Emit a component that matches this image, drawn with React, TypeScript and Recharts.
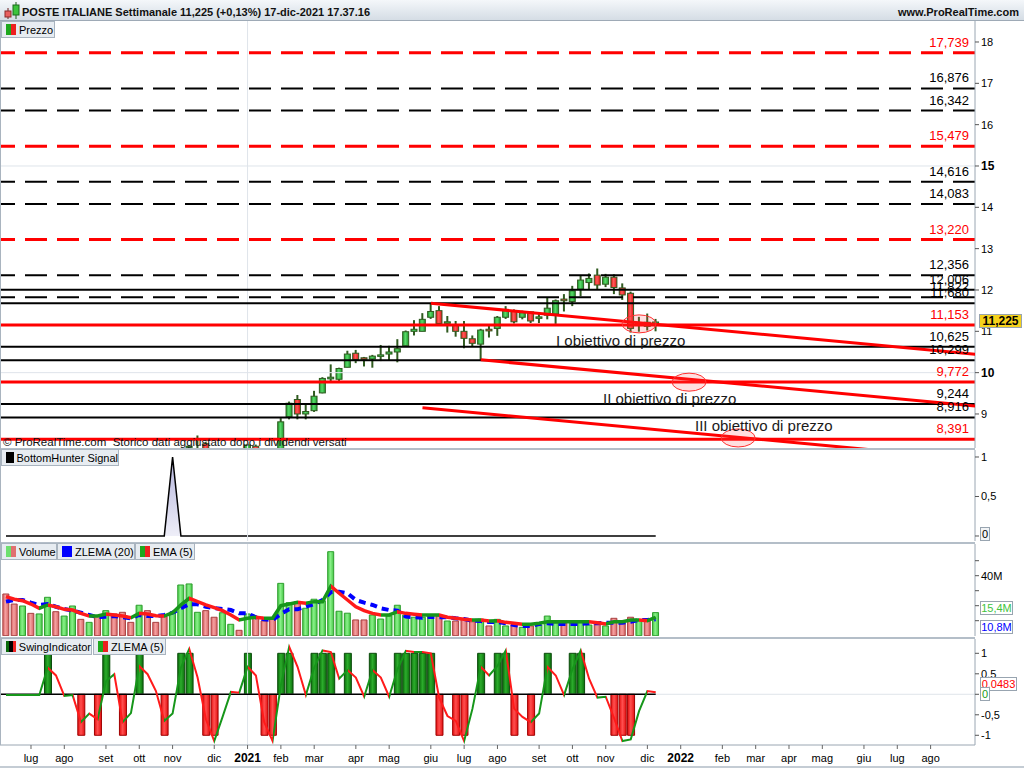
import React from 'react';
import {
  ComposedChart, Bar, Line, Area, XAxis, YAxis, ReferenceLine, ReferenceDot, Cell, Scatter,
} from 'recharts';

const FONT = '"Liberation Sans", Arial, Helvetica, sans-serif';

// ---- categories: weekly bars, index 0 = week of 15 Jun 2020, index 78 = week of 13 Dec 2021
const FIRST_WEEK = '2020-06-15';
const monthTicks = [3, 7, 12, 16, 20, 25, 29, 33, 37, 42, 46, 51, 55, 59, 64, 68, 72, 77, 81, 86, 90, 94, 98, 103, 107, 111];
const monthLabels = ['lug', 'ago', 'set', 'ott', 'nov', 'dic', '2021', 'feb', 'mar', 'apr', 'mag', 'giu', 'lug', 'ago', 'set', 'ott', 'nov', 'dic', '2022', 'feb', 'mar', 'apr', 'mag', 'giu', 'lug', 'ago'];
const priceTicks = [9, 10, 11, 12, 13, 14, 15, 16, 17, 18];
const boldPriceTicks = [10, 15];

// ---- price (OHLC)
const openP = [7.95, 7.78, 7.62, 7.85, 7.70, 7.92, 8.05, 7.88, 8.00, 8.10, 7.80, 7.90, 7.68, 7.92, 7.75, 7.50, 7.38, 7.66, 7.35, 7.10, 6.95, 7.25, 7.95, 8.10, 8.28, 8.00, 7.80, 7.95, 8.05, 8.00, 8.22, 7.95, 7.75, 7.60, 8.93, 9.35, 9.00, 9.08, 9.51, 9.85, 9.84, 10.13, 10.47, 10.36, 10.33, 10.40, 10.45, 10.50, 10.65, 11.00, 11.00, 11.34, 11.50, 11.20, 11.15, 11.00, 10.82, 10.69, 11.05, 11.07, 11.34, 11.50, 11.34, 11.47, 11.32, 11.39, 11.42, 11.78, 11.72, 12.02, 12.18, 12.36, 12.14, 12.31, 12.05, 11.92, 11.14, 11.22, 11.15];
const highP = [8.05, 7.90, 7.90, 7.95, 7.98, 8.10, 8.12, 8.08, 8.15, 8.14, 7.95, 7.96, 7.98, 8.00, 7.82, 7.60, 7.72, 7.70, 7.40, 7.15, 7.30, 8.05, 8.24, 8.48, 8.32, 8.05, 8.00, 8.10, 8.10, 8.28, 8.26, 8.00, 7.85, 8.90, 9.30, 9.46, 9.22, 9.56, 9.89, 10.20, 10.12, 10.53, 10.55, 10.38, 10.43, 10.67, 10.65, 10.81, 11.02, 11.27, 11.44, 11.68, 11.61, 11.37, 11.25, 11.25, 10.90, 11.06, 11.14, 11.37, 11.61, 11.53, 11.50, 11.47, 11.43, 11.82, 11.77, 11.90, 12.10, 12.36, 12.40, 12.52, 12.39, 12.38, 12.16, 11.96, 11.35, 11.43, 11.30];
const lowP = [7.70, 7.55, 7.55, 7.65, 7.62, 7.85, 7.80, 7.82, 7.90, 7.75, 7.70, 7.62, 7.64, 7.70, 7.45, 7.30, 7.35, 7.30, 7.05, 6.85, 6.88, 7.20, 7.85, 8.05, 7.95, 7.75, 7.72, 7.88, 7.96, 7.95, 7.90, 7.70, 7.55, 7.58, 8.87, 8.87, 8.87, 9.05, 9.50, 9.76, 9.80, 10.13, 10.23, 10.15, 10.12, 10.28, 10.30, 10.25, 10.65, 10.90, 11.00, 11.30, 11.19, 10.97, 10.87, 10.59, 10.62, 10.31, 10.85, 10.89, 11.30, 11.19, 11.29, 11.20, 11.20, 11.29, 11.18, 11.48, 11.61, 11.85, 12.02, 12.02, 12.07, 11.90, 11.76, 10.97, 10.99, 11.02, 11.00];
const closeP = [7.78, 7.62, 7.85, 7.70, 7.92, 8.05, 7.88, 8.00, 8.10, 7.80, 7.90, 7.68, 7.92, 7.75, 7.50, 7.38, 7.66, 7.35, 7.10, 6.95, 7.25, 7.95, 8.22, 8.16, 8.00, 7.80, 7.95, 8.05, 8.00, 8.25, 7.95, 7.75, 7.60, 8.81, 9.26, 9.00, 9.06, 9.43, 9.86, 9.89, 10.10, 10.45, 10.32, 10.33, 10.40, 10.43, 10.50, 10.58, 10.99, 11.05, 11.29, 11.48, 11.19, 11.23, 11.00, 10.83, 10.71, 11.03, 11.01, 11.34, 11.50, 11.23, 11.45, 11.25, 11.35, 11.56, 11.74, 11.74, 11.98, 12.24, 12.28, 12.12, 12.31, 12.06, 11.88, 11.07, 11.20, 11.12, 11.225];

// ---- volume (millions) and its averages
const volumeM = [27.8, 21.1, 19.8, 14.9, 14.5, 25.6, 16.0, 13.1, 19.8, 10.9, 8.9, 13.1, 16.7, 14.5, 15.6, 8.9, 20.3, 16.7, 8.9, 12.7, 15.3, 33.8, 34.5, 15.6, 16.7, 12.3, 15.3, 7.6, 3.6, 14.5, 12.3, 9.8, 11.1, 34.9, 22.0, 22.7, 18.3, 24.3, 23.3, 56.0, 16.3, 15.0, 10.5, 10.5, 13.8, 11.1, 13.1, 20.3, 13.8, 12.3, 12.3, 13.8, 13.1, 9.8, 9.8, 11.1, 9.3, 11.1, 6.5, 10.9, 6.5, 7.1, 5.6, 6.5, 7.1, 13.1, 8.3, 8.3, 8.3, 8.7, 7.1, 7.8, 6.5, 11.6, 8.7, 12.3, 10.5, 9.8, 15.4];
const volZlema20 = [22.7, 23.8, 23.8, 22.0, 20.5, 21.1, 19.3, 17.8, 16.7, 15.3, 13.8, 12.3, 12.7, 13.1, 12.3, 11.6, 13.8, 13.1, 13.1, 13.8, 15.3, 18.3, 21.1, 20.9, 19.3, 18.3, 17.8, 17.1, 14.9, 14.9, 12.3, 10.9, 10.5, 14.5, 17.6, 17.6, 19.3, 21.1, 23.8, 29.0, 29.3, 28.3, 23.8, 22.0, 20.5, 18.3, 17.1, 16.7, 12.7, 12.3, 12.0, 12.7, 12.3, 12.3, 11.6, 11.1, 10.0, 9.8, 9.1, 9.1, 8.3, 7.1, 6.5, 6.5, 7.8, 8.3, 7.8, 7.8, 7.8, 7.8, 8.3, 8.3, 8.7, 8.7, 8.7, 9.3, 10.5, 10.5, 10.9];
const volEma5 = [26.0, 24.3, 23.3, 21.1, 18.3, 20.5, 19.3, 17.6, 17.1, 14.9, 13.1, 13.1, 14.5, 13.8, 13.1, 12.0, 14.9, 14.5, 13.3, 13.1, 15.3, 20.5, 24.9, 22.7, 20.5, 18.7, 16.7, 13.8, 10.5, 11.6, 12.3, 11.6, 11.6, 20.0, 21.1, 22.3, 21.6, 22.7, 22.7, 33.0, 28.3, 23.8, 19.3, 16.7, 14.9, 13.8, 13.8, 16.0, 14.9, 14.3, 13.8, 13.8, 13.8, 12.3, 11.6, 10.9, 10.5, 10.5, 9.8, 10.0, 8.9, 8.3, 7.6, 7.6, 8.3, 9.3, 9.3, 9.3, 9.3, 9.3, 9.3, 8.7, 7.8, 9.3, 9.3, 10.5, 10.5, 10.0, 12.3];

// ---- BottomHunter signal
const bottomHunter = [0, 0, 0, 0, 0, 0, 0, 0, 0, 0, 0, 0, 0, 0, 0, 0, 0, 0, 0, 0, 1, 0, 0, 0, 0, 0, 0, 0, 0, 0, 0, 0, 0, 0, 0, 0, 0, 0, 0, 0, 0, 0, 0, 0, 0, 0, 0, 0, 0, 0, 0, 0, 0, 0, 0, 0, 0, 0, 0, 0, 0, 0, 0, 0, 0, 0, 0, 0, 0, 0, 0, 0, 0, 0, 0, 0, 0, 0, 0];

// ---- Swing indicator and its ZLEMA(5)
const swingSignal = [0, 0, 0, 0, 0, 1, 0, 0, 0, -1, 0, -1, 1, 0, -1, 0, 1, 0, 0, -1, 0, 1, 1, 0, -1, -1, 0, 0, 0, 1, 0, -1, -1, 1, 1, 0, 0, 1, 1, 1, 0, 1, 0, 0, 1, 0, 0, 1, 1, 1, 1, 1, -1, 0, -1, -1, 0, 1, 0, 1, 1, -1, 0, -1, 0, 1, 0, 0, 1, 1, 0, 0, 0, -1, -1, -1, 0, 0, 0];
const swingZlema5 = [-0.02, -0.02, -0.02, -0.02, -0.02, 0.65, 0.46, -0.04, -0.02, -0.68, -0.47, -0.61, 0.32, 0.49, -0.68, -0.46, 0.69, 0.49, 0.08, -0.65, -0.47, 0.65, 1.11, 0.41, -0.61, -1.14, -0.55, 0.06, 0.04, 0.67, 0.46, -0.68, -1.14, 0.22, 1.16, 0.67, -0.02, 0.65, 1.07, 1.03, 0.38, 0.59, 0.41, -0.06, 0.59, 0.41, -0.06, 0.61, 1.06, 1.03, 1.03, 1.0, -0.08, -0.53, -0.65, -1.14, -0.35, 0.67, 0.46, 0.69, 1.07, -0.35, -0.55, -0.68, -0.47, 0.67, 0.46, -0.02, 0.61, 1.07, 0.38, -0.08, -0.06, -0.58, -1.14, -1.10, -0.41, 0.08, 0.05];

// ---- horizontal price levels
const levelValues = [17.739, 16.876, 16.342, 15.479, 14.616, 14.083, 13.220, 12.356, 11.822, 12.006, 11.680, 11.153, 10.625, 10.299, 9.772, 9.244, 8.916, 8.391];
const levelKinds = ['rd', 'bd', 'bd', 'rd', 'bd', 'bd', 'rd', 'bd', 'bd', 'bs', 'bs', 'rs', 'bs', 'bs', 'rs', 'bs', 'bs', 'rs'];

// ---- trend lines (two anchor points each: week index, price)
const trendLine1 = [{ i: 51, p: 11.68 }, { i: 117, p: 10.435 }];
const trendLine2 = [{ i: 57, p: 10.31 }, { i: 117, p: 9.18 }];
const trendLine3 = [{ i: 50, p: 9.15 }, { i: 117, p: 7.886 }];

// ---- price targets (ellipses)
const targetWeeks = [76, 82, 87.9];
const targetPrices = [11.18, 9.77, 8.42];
const targetNotes = ['I obiettivo di prezzo', 'II obiettivo di prezzo', 'III obiettivo di prezzo'];

// ---- layout constants
const X_DOMAIN: [number, number] = [-0.72, 116.33];
const PRICE_DOMAIN: [number, number] = [8.177, 18.508];
const BH_DOMAIN: [number, number] = [-0.0633, 1.0886];
const VOL_DOMAIN: [number, number] = [-0.2, 61.13];
const SW_DOMAIN: [number, number] = [-1.237, 1.349];
const AXIS = '#9aa6b2';
const GRID = '#dfe4ea';
const WICK = '#2f5a1f';
const LINE_GREEN = '#16961a';
const LINE_RED = '#ff1a1a';

const rows = openP.map((o, i) => ({
  i,
  o,
  h: highP[i],
  l: lowP[i],
  c: closeP[i],
  range: [lowP[i], highP[i]],
  up: closeP[i] >= o,
  vol: volumeM[i],
  vz: volZlema20[i],
  ve: volEma5[i],
  bh: bottomHunter[i],
  sw: swingSignal[i] === 0 ? null : swingSignal[i],
  sz: swingZlema5[i],
}));

const fmt = (v: number, d: number) => v.toFixed(d).replace('.', ',');

function segGradient(id: string, vals: number[]) {
  const n = vals.length - 1;
  const stops: React.ReactNode[] = [];
  for (let k = 0; k < n; k++) {
    const col = vals[k + 1] >= vals[k] ? LINE_GREEN : LINE_RED;
    stops.push(<stop key={`${id}a${k}`} offset={k / n} stopColor={col} />);
    stops.push(<stop key={`${id}b${k}`} offset={(k + 1) / n} stopColor={col} />);
  }
  return (
    <linearGradient id={id} x1="0" y1="0" x2="1" y2="0">
      {stops}
    </linearGradient>
  );
}

function hGrad(id: string, edge: string, mid: string) {
  return (
    <linearGradient id={id} x1="0" y1="0" x2="1" y2="0">
      <stop offset="0" stopColor={edge} />
      <stop offset="0.45" stopColor={mid} />
      <stop offset="1" stopColor={edge} />
    </linearGradient>
  );
}

function Defs() {
  return (
    <svg width={0} height={0} style={{ position: 'absolute', left: 0, top: 0 }}>
      <defs>
        {hGrad('cUp', '#1c9a2c', '#5ada6a')}
        {hGrad('cDn', '#e01414', '#ff5a5a')}
        {hGrad('vUp', '#45c845', '#8af08a')}
        {hGrad('vDn', '#d86464', '#f4a0a0')}
        {hGrad('sUp', '#0c700c', '#2cac2c')}
        {hGrad('sDn', '#e41010', '#ff5050')}
        <linearGradient id="bhFill" x1="0" y1="0" x2="0" y2="1">
          <stop offset="0" stopColor="#b4b4dc" />
          <stop offset="1" stopColor="#eeeef8" />
        </linearGradient>
        {segGradient('veGrad', volEma5)}
        {segGradient('szGrad', swingZlema5)}
      </defs>
    </svg>
  );
}

function Candle(p: any) {
  const { x, y, width, height, payload } = p;
  if (!payload || height == null || !isFinite(y) || !isFinite(height)) return <g />;
  const { o, h, l, c } = payload;
  const top = Math.min(y, y + height);
  const hgt = Math.abs(height);
  const k = hgt / (h - l);
  const cx = x + width / 2;
  const bTop = top + (h - Math.max(o, c)) * k;
  const bBot = top + (h - Math.min(o, c)) * k;
  const up = c >= o;
  return (
    <g>
      <line x1={cx} x2={cx} y1={top} y2={top + hgt} stroke={WICK} strokeWidth={2} />
      <rect x={cx - 3} y={bTop} width={6} height={Math.max(bBot - bTop, 1.5)} fill={up ? 'url(#cUp)' : 'url(#cDn)'} stroke={WICK} strokeWidth={1} />
    </g>
  );
}

function PriceTick(p: any) {
  const v = p.payload.value;
  const bold = boldPriceTicks.includes(v);
  return (
    <text x={p.x} y={p.y} dy={4} textAnchor="start" fontFamily={FONT} fontSize={bold ? 12 : 11} fontWeight={bold ? 'bold' : 'normal'} fill="#000">
      {v}
    </text>
  );
}

function makeTick(labels: Record<string, string>) {
  return (p: any) => {
    const key = String(p.payload.value);
    const t = labels[key];
    if (!t) return <g />;
    return (
      <text x={p.x} y={p.y} dy={4} textAnchor="start" fontFamily={FONT} fontSize={11} fill="#000">
        {t}
      </text>
    );
  };
}
const BhTick = makeTick({ '0.5': '0,5', '1': '1' });
const VolTick = makeTick({ '40': '40M' });
const SwTick = makeTick({ '1': '1', '0.5': '0,5', '-0.5': '-0,5', '-1': '-1' });

function MonthTick(p: any) {
  const v = p.payload.value;
  const label = monthLabels[monthTicks.indexOf(v)] || '';
  const isYear = /^\d{4}$/.test(label);
  return (
    <text x={p.x} y={p.y} dy={11} textAnchor="middle" fontFamily={FONT} fontSize={isYear ? 12 : 11} fontWeight={isYear ? 'bold' : 'normal'} fill="#000">
      {label}
    </text>
  );
}

const noMargin = { top: 0, right: 0, bottom: 0, left: 0 };

function PriceChart() {
  return (
    <ComposedChart width={1024} height={427} data={rows} margin={noMargin}>
      <XAxis type="number" dataKey="i" domain={X_DOMAIN} allowDataOverflow hide />
      <YAxis type="number" orientation="right" width={49} domain={PRICE_DOMAIN} allowDataOverflow ticks={priceTicks} interval={0} tickSize={4} tickLine={{ stroke: '#555' }} axisLine={{ stroke: AXIS }} tick={PriceTick} />
      <ReferenceLine x={29} stroke={GRID} />
      <ReferenceLine y={10} stroke={GRID} />
      <ReferenceLine y={15} stroke={GRID} />
      {levelValues.map((v, k) => {
        const red = levelKinds[k][0] === 'r';
        const dashed = levelKinds[k][1] === 'd';
        return (
          <ReferenceLine key={'lv' + k} y={v} stroke={red ? '#ff0000' : '#000000'} strokeWidth={red ? 3 : 2} strokeDasharray={dashed ? '22 10' : undefined} />
        );
      })}
      <Bar dataKey="range" barSize={6} isAnimationActive={false} shape={(p: any) => <Candle {...p} />} />
      {[trendLine1, trendLine2, trendLine3].map((t, k) => (
        <Scatter key={'tl' + k} data={t} dataKey="p" line={{ stroke: '#ff0000', strokeWidth: 3 }} shape={() => <g />} isAnimationActive={false} />
      ))}
      {targetWeeks.map((w, k) => (
        <ReferenceDot key={'el' + k} x={w} y={targetPrices[k]} r={1} ifOverflow="visible"
          shape={(p: any) => <ellipse cx={p.cx} cy={p.cy} rx={17} ry={9} fill="rgba(255,80,80,0.18)" stroke="#ff3030" strokeWidth={1} />} />
      ))}
      {levelValues.map((v, k) => {
        const red = levelKinds[k][0] === 'r';
        return (
          <ReferenceDot key={'lb' + k} x={X_DOMAIN[1]} y={v} r={1} ifOverflow="visible"
            shape={(p: any) => (
              <text x={p.cx - 6} y={p.cy - 6} textAnchor="end" fontFamily={FONT} fontSize={13} fill={red ? '#ff0000' : '#000'}>
                {fmt(v, 3)}
              </text>
            )} />
        );
      })}
    </ComposedChart>
  );
}

function BhChart() {
  return (
    <ComposedChart width={1024} height={91} data={rows} margin={noMargin}>
      <XAxis type="number" dataKey="i" domain={X_DOMAIN} allowDataOverflow hide />
      <YAxis type="number" orientation="right" width={49} domain={BH_DOMAIN} allowDataOverflow ticks={[0, 0.5, 1]} interval={0} tickSize={4} tickLine={{ stroke: '#555' }} axisLine={{ stroke: AXIS }} tick={BhTick} />
      <ReferenceLine x={29} stroke={GRID} />
      <Area type="linear" dataKey="bh" stroke="#000" strokeWidth={1.5} fill="url(#bhFill)" fillOpacity={1} dot={false} activeDot={false} isAnimationActive={false} />
    </ComposedChart>
  );
}

function VolChart() {
  return (
    <ComposedChart width={1024} height={92} data={rows} margin={noMargin}>
      <XAxis type="number" dataKey="i" domain={X_DOMAIN} allowDataOverflow hide />
      <YAxis type="number" orientation="right" width={49} domain={VOL_DOMAIN} allowDataOverflow ticks={[10, 20, 30, 40, 50]} interval={0} tickSize={4} tickLine={{ stroke: '#555' }} axisLine={{ stroke: AXIS }} tick={VolTick} />
      <ReferenceLine x={29} stroke={GRID} />
      <Bar dataKey="vol" barSize={6} isAnimationActive={false}>
        {rows.map((r) => (
          <Cell key={'v' + r.i} fill={r.up ? 'url(#vUp)' : 'url(#vDn)'} stroke={r.up ? '#2f9e2f' : '#a84040'} strokeWidth={1} />
        ))}
      </Bar>
      <Line type="linear" dataKey="vz" stroke="#0000ff" strokeWidth={4} strokeDasharray="7 5" dot={false} activeDot={false} isAnimationActive={false} />
      <Line type="linear" dataKey="ve" stroke="url(#veGrad)" strokeWidth={3.5} dot={false} activeDot={false} isAnimationActive={false} />
    </ComposedChart>
  );
}

function SwingChart() {
  return (
    <ComposedChart width={1024} height={129} data={rows} margin={noMargin}>
      <XAxis type="number" dataKey="i" domain={X_DOMAIN} allowDataOverflow ticks={monthTicks} interval={0} height={23} tickSize={4} tickLine={{ stroke: '#666' }} axisLine={{ stroke: AXIS }} tick={MonthTick} />
      <YAxis type="number" orientation="right" width={49} domain={SW_DOMAIN} allowDataOverflow ticks={[-1, -0.5, 0, 0.5, 1]} interval={0} tickSize={4} tickLine={{ stroke: '#555' }} axisLine={{ stroke: AXIS }} tick={SwTick} />
      <ReferenceLine x={29} stroke={GRID} />
      <ReferenceLine y={0} stroke={GRID} />
      <ReferenceLine segment={[{ x: X_DOMAIN[0], y: 0 }, { x: 78, y: 0 }]} stroke="#000" strokeWidth={1.5} ifOverflow="visible" />
      <Bar dataKey="sw" barSize={7} isAnimationActive={false}>
        {rows.map((r) => (
          <Cell key={'s' + r.i} fill={(r.sw || 0) > 0 ? 'url(#sUp)' : 'url(#sDn)'} stroke={(r.sw || 0) > 0 ? '#0a4a0a' : '#a00000'} strokeWidth={1} />
        ))}
      </Bar>
      <Line type="linear" dataKey="sz" stroke="url(#szGrad)" strokeWidth={2} dot={false} activeDot={false} isAnimationActive={false} />
    </ComposedChart>
  );
}

function Legend({ left, top, width, children }: any) {
  return (
    <div style={{ position: 'absolute', left, top, width, height: 17, boxSizing: 'border-box', background: '#e7ecf1', border: '1px solid #a9b4bf', display: 'flex', alignItems: 'center', gap: 3, padding: '0 0 0 4px', font: `11px ${FONT}`, color: '#000', whiteSpace: 'nowrap' }}>
      {children}
    </div>
  );
}

function Icon({ colors }: { colors: string[] }) {
  return (
    <span style={{ display: 'inline-flex', width: 10, height: 11 }}>
      {colors.map((c, k) => (
        <span key={k} style={{ flex: 1, background: c }} />
      ))}
    </span>
  );
}

function ValueBox({ left, top, width, color, bg, text, bold }: any) {
  return (
    <div style={{ position: 'absolute', left, top, width, height: 14, boxSizing: 'border-box', background: bg || '#fff', border: '1px solid #98a4b0', font: `${bold ? 'bold 12px' : '11px'} ${FONT}`, color, lineHeight: '12px', textAlign: 'center' }}>
      {text}
    </div>
  );
}

export default function App() {
  return (
    <div style={{ position: 'relative', width: 1024, height: 768, background: '#fff', overflow: 'hidden', fontFamily: FONT }} data-first-week={FIRST_WEEK}>
      <style>{'body{margin:0;}'}</style>
      <Defs />

      {/* title bar */}
      <div style={{ position: 'absolute', left: 0, top: 0, width: 1024, height: 21, boxSizing: 'border-box', background: 'linear-gradient(#f4f7fa, #d5dde5)', borderBottom: '1px solid #9eaab6' }}>
        <svg width={20} height={20} style={{ position: 'absolute', left: 2, top: 0 }}>
          <line x1={6} x2={6} y1={8} y2={19} stroke="#6a2020" strokeWidth={1} />
          <rect x={3} y={11} width={6} height={6} fill="#e86060" stroke="#8a2a2a" />
          <line x1={14} x2={14} y1={2} y2={19} stroke="#1a5a1a" strokeWidth={1} />
          <rect x={11} y={5} width={6} height={10} fill="#3cc43c" stroke="#1a6a1a" />
        </svg>
        <span style={{ position: 'absolute', left: 22, top: 6, font: `bold 11px ${FONT}`, lineHeight: '13px', color: '#111' }}>
          POSTE ITALIANE Settimanale 11,225 (+0,13%) 17-dic-2021 17.37.16
        </span>
        <span style={{ position: 'absolute', right: 5, top: 6, font: `bold 11px ${FONT}`, lineHeight: '13px', color: '#111' }}>www.ProRealTime.com</span>
      </div>

      <div style={{ position: 'absolute', left: 0, top: 21 }}><PriceChart /></div>
      <div style={{ position: 'absolute', left: 0, top: 450 }}><BhChart /></div>
      <div style={{ position: 'absolute', left: 0, top: 544 }}><VolChart /></div>
      <div style={{ position: 'absolute', left: 0, top: 639 }}><SwingChart /></div>

      {/* panel separators */}
      {[448, 542, 637].map((y) => (
        <div key={'sep' + y} style={{ position: 'absolute', left: 0, top: y, width: 975, height: 2, background: '#b4bec8' }} />
      ))}
      <div style={{ position: 'absolute', left: 0, top: 21, width: 1, height: 724, background: '#a9b4bf' }} />
      <div style={{ position: 'absolute', left: 0, top: 766, width: 1024, height: 2, background: '#c4ccd4' }} />

      {/* text annotations */}
      <svg width={1024} height={768} style={{ position: 'absolute', left: 0, top: 0, pointerEvents: 'none' }}>
        <text x={556} y={346} fontFamily={FONT} fontSize={15} fill="#1a1a1a">{targetNotes[0]}</text>
        <text x={603} y={404} fontFamily={FONT} fontSize={15} fill="#1a1a1a">{targetNotes[1]}</text>
        <text x={695} y={431} fontFamily={FONT} fontSize={15} fill="#1a1a1a">{targetNotes[2]}</text>
        <text x={3} y={446} fontFamily={FONT} fontSize={11.5} fill="#111" style={{ whiteSpace: 'pre' }}>{'© ProRealTime.com  Storico dati aggiustato dopo i dividendi versati'}</text>
      </svg>

      {/* legends */}
      <Legend left={1} top={21} width={54}><Icon colors={['#1ea81e', '#ee2020']} />Prezzo</Legend>
      <Legend left={1} top={449} width={118}><Icon colors={['#000', '#000']} />BottomHunter Signal</Legend>
      <Legend left={1} top={543} width={56}><Icon colors={['#6ee06e', '#e07070']} />Volume</Legend>
      <Legend left={57} top={543} width={78}><Icon colors={['#0000ff', '#0000ff']} />ZLEMA (20)</Legend>
      <Legend left={135} top={543} width={60}><Icon colors={['#1ea81e', '#ee2020']} />EMA (5)</Legend>
      <Legend left={1} top={638} width={91}><Icon colors={['#0a6a0a', '#000', '#ee2020']} />SwingIndicator</Legend>
      <Legend left={93} top={638} width={73}><Icon colors={['#1ea81e', '#ee2020']} />ZLEMA (5)</Legend>

      {/* last-value boxes */}
      <ValueBox left={979} top={314} width={43} color="#000" bg="#f6d21c" text="11,225" bold />
      <ValueBox left={980} top={527} width={10} color="#000" bg="#f2f4f6" text="0" />
      <ValueBox left={980} top={601} width={33} color="#3ec43e" text="15,4M" />
      <ValueBox left={980} top={620} width={33} color="#0000ff" text="10,8M" />
      <ValueBox left={980} top={677} width={37} color="#ff0000" text="0,0483" />
      <ValueBox left={980} top={687} width={10} color="#1a9a1a" text="0" />
    </div>
  );
}
